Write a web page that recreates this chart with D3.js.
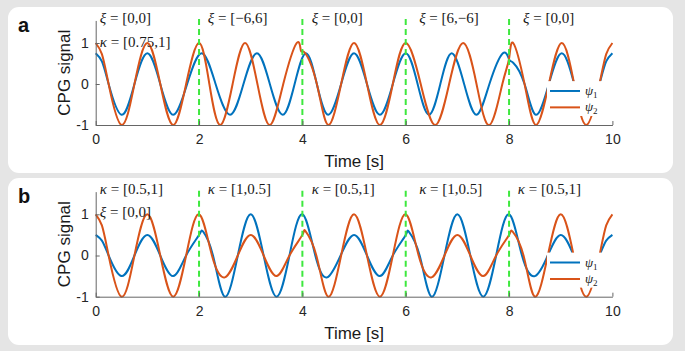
<!DOCTYPE html>
<html lang="en"><head>
<meta charset="utf-8">
<title>CPG signal</title>
<script src="https://cdn.jsdelivr.net/npm/d3@7/dist/d3.min.js"></script>
<style>
body{margin:0;background:#e5e5e5;}
svg{display:block;}
.axis path,.axis line{stroke:#666;}
.axis text{font-family:"Liberation Sans",Arial,sans-serif;font-size:14px;fill:#262626;}
.note{font-family:"Liberation Serif","Times New Roman",serif;font-size:15px;fill:#1a1a1a;}
</style>
</head><body>
<script>
var width=685, height=351;

// shared ticks and switching instants
var xTicks=[0,2,4,6,8,10];
var yTicks=[-1,0,1];
var switchTimes=[2,4,6,8];

// panel a: [time, value] key points
var aPsi1=[[0,0.75],[0.12,0.55],[0.25,0],[0.5,-0.75],[0.75,0],[1,0.75],[1.25,0],[1.5,-0.75],[1.77,0],
  [2.05,0.75],[2.32,0],[2.6,-0.75],[2.86,0],[3.12,0.75],[3.37,0],[3.62,-0.75],[3.85,0],[4.07,0.75],
  [4.28,0],[4.5,-0.75],[4.75,0],[5,0.75],[5.25,0],[5.5,-0.75],[5.75,0],[6,0.75],[6.23,0],[6.45,-0.75],
  [6.67,0],[6.89,0.75],[7.13,0],[7.37,-0.75],[7.62,0],[7.88,0.75],[8,0.6],[8.08,0.52],[8.3,0],
  [8.52,-0.75],[8.77,0],[9.02,0.75],[9.26,0],[9.5,-0.75],[9.75,0],[9.88,0.55],[10,0.75]];
var aPsi2=[[0,1],[0.12,0.73],[0.25,0],[0.5,-1],[0.75,0],[1,1],[1.25,0],[1.5,-1],[1.75,0],[2,1],
  [2.2,0],[2.41,-1],[2.65,0],[2.89,1],[3.13,0],[3.37,-1],[3.63,0],[3.89,1],[3.97,0.82],[4.05,0.76],
  [4.28,0],[4.5,-1],[4.75,0],[5,1],[5.25,0],[5.5,-1],[5.75,0],[6,1],[6.29,0],[6.57,-1],[6.84,0],
  [7.11,1],[7.37,0],[7.62,-1],[7.87,0],[8,0.62],[8.08,1],[8.3,0],[8.52,-1],[8.77,0],[9.02,1],
  [9.26,0],[9.5,-1],[9.75,0],[9.88,0.73],[10,1]];
var aTopSym="ξ", aTopVals=["[0,0]","[−6,6]","[0,0]","[6,−6]","[0,0]"];
var aSubSym="κ", aSubVal="[0.75,1]";

// panel b
var bPsi1=[[0,0.5],[0.12,0.36],[0.25,0],[0.5,-0.5],[0.75,0],[1,0.5],[1.25,0],[1.5,-0.5],[1.75,0],
  [2,0.5],[2.08,0.58],[2.27,0],[2.5,-1],[2.75,0],[3,1],[3.25,0],[3.5,-1],[3.75,0],[4,1],[4.25,0],
  [4.48,-0.53],[4.74,0],[5,0.5],[5.25,0],[5.5,-0.5],[5.75,0],[6,0.5],[6.06,0.58],[6.27,0],[6.5,-1],
  [6.75,0],[7,1],[7.25,0],[7.5,-1],[7.75,0],[8,1],[8.25,0],[8.5,-0.5],[8.75,0],[9,0.5],[9.25,0],
  [9.5,-0.5],[9.75,0],[9.88,0.36],[10,0.5]];
var bPsi2=[[0,1],[0.12,0.73],[0.25,0],[0.5,-1],[0.75,0],[1,1],[1.25,0],[1.5,-1],[1.75,0],[2,1],
  [2.25,0],[2.5,-0.53],[2.75,0],[3,0.5],[3.25,0],[3.5,-0.5],[3.75,0],[4,0.5],[4.06,0.59],[4.27,0],
  [4.5,-1],[4.75,0],[5,1],[5.25,0],[5.5,-1],[5.75,0],[6,1],[6.25,0],[6.5,-0.53],[6.75,0],[7,0.5],
  [7.25,0],[7.5,-0.5],[7.75,0],[8,0.5],[8.07,0.58],[8.28,0],[8.5,-1],[8.75,0],[9,1],[9.25,0],
  [9.5,-1],[9.75,0],[9.88,0.73],[10,1]];
var bTopSym="κ", bTopVals=["[0.5,1]","[1,0.5]","[0.5,1]","[1,0.5]","[0.5,1]"];
var bSubSym="ξ", bSubVal="[0,0]";

var blue="#0072BD", orange="#D95319", green="#3ee83e";

var svg=d3.select("body").append("svg").attr("width",width).attr("height",height);

var x=d3.scaleLinear().domain([0,10]).range([95.7,612.4]);

var panels=[
  {name:"a",top:7,h:166,base:125,unit:41,psi1:aPsi1,psi2:aPsi2,topSym:aTopSym,topVals:aTopVals,
   subSym:aSubSym,subVal:aSubVal,labelAt:[0.08,2.17,4.18,6.26,8.27]},
  {name:"b",top:178,h:167,base:296.7,unit:41.2,psi1:bPsi1,psi2:bPsi2,topSym:bTopSym,topVals:bTopVals,
   subSym:bSubSym,subVal:bSubVal,labelAt:[0.08,2.17,4.18,6.26,8.17]}
];

panels.forEach(function(p){
  var y=d3.scaleLinear().domain([-1,1.55]).range([p.base,p.base-2.55*p.unit]);
  var g=svg.append("g");

  g.append("rect").attr("x",8).attr("y",p.top).attr("width",665).attr("height",p.h)
    .attr("rx",11).attr("fill","#fff");

  var line=d3.line().x(d=>x(d[0])).y(d=>y(d[1])).curve(d3.curveNatural);
  g.append("path").attr("d",line(p.psi1)).attr("fill","none").attr("stroke",blue).attr("stroke-width",2);
  g.append("path").attr("d",line(p.psi2)).attr("fill","none").attr("stroke",orange).attr("stroke-width",2);

  g.selectAll(".sw").data(switchTimes).enter().append("line")
    .attr("x1",d=>x(d)).attr("x2",d=>x(d)).attr("y1",y(-1)).attr("y2",y(1.55)-2)
    .attr("stroke",green).attr("stroke-width",2).attr("stroke-dasharray","6,4");

  var gx=g.append("g").attr("class","axis").attr("transform","translate(0,"+y(-1)+")")
    .call(d3.axisBottom(x).tickValues(xTicks).tickSizeInner(-4).tickSizeOuter(0).tickPadding(9).tickFormat(d=>String(d)));
  var gy=g.append("g").attr("class","axis").attr("transform","translate("+x(0)+",0)")
    .call(d3.axisLeft(y).tickValues(yTicks).tickSizeInner(-4).tickSizeOuter(0).tickPadding(7).tickFormat(d=>String(d)));

  g.append("text").attr("x",x(5)).attr("y",y(-1)+42).attr("text-anchor","middle")
    .style("font-family","'Liberation Sans',Arial,sans-serif").style("font-size","17px").attr("fill","#1a1a1a")
    .text("Time [s]");
  g.append("text").attr("transform","translate(70,"+y(0.275)+") rotate(-90)").attr("text-anchor","middle")
    .style("font-family","'Liberation Sans',Arial,sans-serif").style("font-size","17px").attr("fill","#1a1a1a")
    .text("CPG signal");
  g.append("text").attr("x",18).attr("y",p.top+25)
    .style("font-family","'Liberation Sans',Arial,sans-serif").style("font-size","20px").style("font-weight","bold")
    .attr("fill","#111").text(p.name);

  // legend box hides the curves behind it
  g.append("rect").attr("x",547).attr("y",y(0.07)).attr("width",x(10)-547).attr("height",y(-0.78)-y(0.07))
    .attr("fill","#fff");
  [[blue,-0.17,"1"],[orange,-0.57,"2"]].forEach(function(l){
    g.append("line").attr("x1",550).attr("x2",580).attr("y1",y(l[1])).attr("y2",y(l[1]))
      .attr("stroke",l[0]).attr("stroke-width",2);
    var t=g.append("text").attr("class","note").attr("x",585).attr("y",y(l[1])+4).style("font-size","13px");
    t.append("tspan").style("font-style","italic").text("ψ");
    t.append("tspan").attr("dy",3).style("font-size","9px").text(l[2]);
  });

  // annotations
  var topY=p.top+(p.name=="a"?16:15.5);
  p.topVals.forEach(function(v,i){
    var t=g.append("text").attr("class","note").attr("x",x(p.labelAt[i])).attr("y",topY);
    t.append("tspan").style("font-style","italic").text(p.topSym);
    t.append("tspan").text(" = "+v);
  });
  var s=g.append("text").attr("class","note").attr("x",x(p.labelAt[0])).attr("y",topY+23.5);
  s.append("tspan").style("font-style","italic").text(p.subSym);
  s.append("tspan").text(" = "+p.subVal);
});
</script>
</body>
</html>
